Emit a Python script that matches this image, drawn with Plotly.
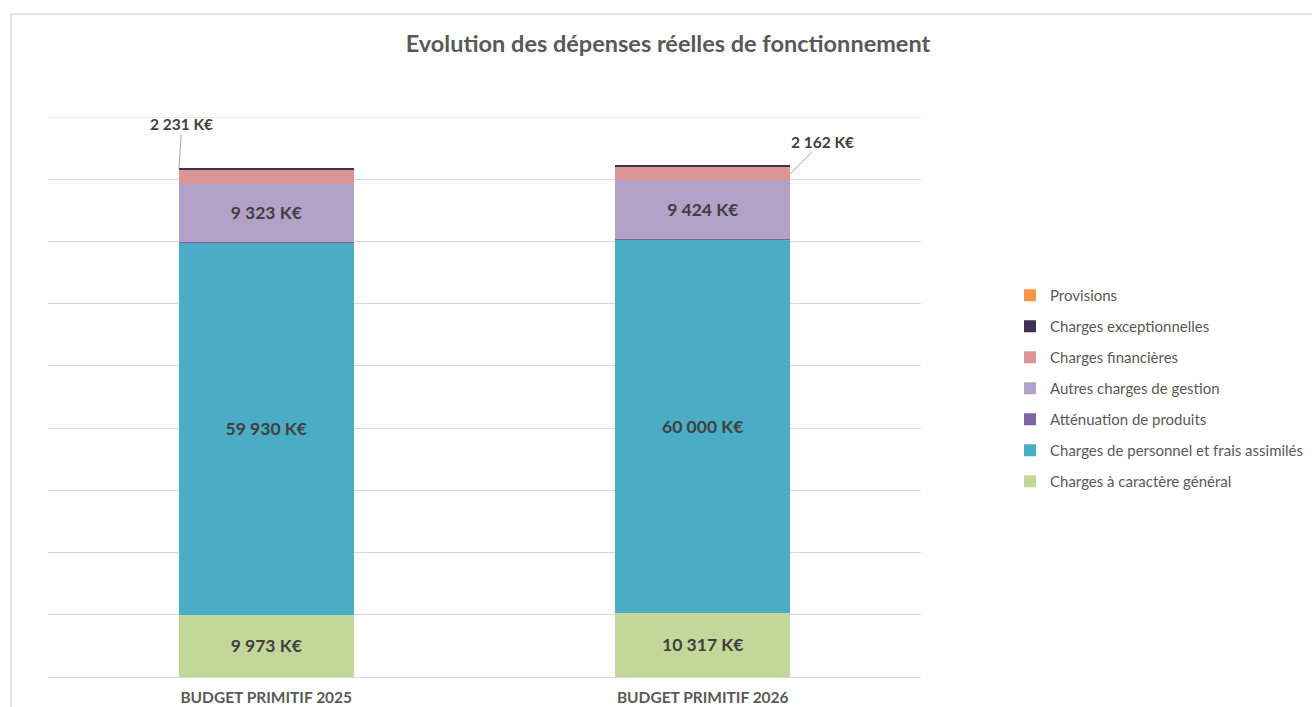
import plotly.graph_objects as go

categories = ["BUDGET PRIMITIF 2025", "BUDGET PRIMITIF 2026"]
series_names = [
    "Charges à caractère général",
    "Charges de personnel et frais assimilés",
    "Atténuation de produits",
    "Autres charges de gestion",
    "Charges financières",
    "Charges exceptionnelles",
    "Provisions",
]
general = [9973, 10317]
personnel = [59930, 60000]
attenuation = [20, 150]
autres = [9323, 9424]
financieres = [2231, 2162]
exceptionnelles = [330, 130]
provisions = [0, 0]

series_values = [general, personnel, attenuation, autres, financieres, exceptionnelles, provisions]
colors = ["#c4d79b", "#4bacc6", "#8064a2", "#b2a2c7", "#da9694", "#403151", "#f79646"]
show_inside = [True, True, False, True, False, False, False]

FONT = "Lato, Open Sans, sans-serif"


def fmt(v):
    return f"{v:,}".replace(",", " ") + " K€"


fig = go.Figure()
n = len(series_names)
for i, (name, vals, col, lab) in enumerate(zip(series_names, series_values, colors, show_inside)):
    fig.add_trace(go.Bar(
        name=name,
        x=categories,
        y=vals,
        marker=dict(color=col, line=dict(width=0)),
        text=[fmt(v) if lab else "" for v in vals],
        textposition="inside" if lab else "none",
        insidetextanchor="middle",
        textfont=dict(family=FONT, size=17.5, color="#404040", weight="bold"),
        legendgroup=name,
        legendrank=100 * (n - i),
        hoverinfo="name+y",
    ))

# outside labels for Charges financières
cum25 = sum(s[0] for s in series_values[:4])
cum26 = sum(s[1] for s in series_values[:4])
fig.add_annotation(x=-0.2, y=cum25 + financieres[0] + exceptionnelles[0] * 0.5,
                   xref="x", yref="y", text=f"<b>{fmt(financieres[0])}</b>",
                   showarrow=True, arrowhead=0, arrowwidth=1, arrowcolor="#a6a6a6",
                   ax=3, ay=-45, font=dict(family=FONT, size=15.5, color="#404040"))
fig.add_annotation(x=1.2, y=cum26 + financieres[1] * 0.45,
                   xref="x", yref="y", text=f"<b>{fmt(financieres[1])}</b>",
                   showarrow=True, arrowhead=0, arrowwidth=1, arrowcolor="#a6a6a6",
                   ax=32, ay=-32, font=dict(family=FONT, size=15.5, color="#404040"))

# chart border
fig.add_shape(type="rect", xref="paper", yref="paper",
              x0=(11 - 48) / 873, x1=(1330 - 48) / 873,
              y0=-0.2, y1=(677 - 14) / 560,
              line=dict(color="#d9d9d9", width=1.5), fillcolor="rgba(0,0,0,0)", layer="below")
# top gridline
fig.add_shape(type="line", xref="paper", yref="y", x0=0, x1=1, y0=90000, y1=90000,
              line=dict(color="#d9d9d9", width=1), layer="below")

fig.update_layout(
    template="none",
    width=1312, height=707,
    barmode="stack",
    bargap=0.6,
    paper_bgcolor="white",
    plot_bgcolor="white",
    margin=dict(l=48, r=391, t=117, b=30, autoexpand=False),
    title=dict(text="<b>Evolution des dépenses réelles de fonctionnement</b>",
               x=668 / 1312, xref="container", xanchor="center",
               y=1 - 44 / 707, yref="container", yanchor="middle",
               font=dict(family=FONT, size=23.5, color="#595959")),
    legend=dict(x=(1010 - 48) / 873, xanchor="left", y=(677 - 279) / 560, yanchor="top",
                traceorder="grouped", tracegroupgap=8.5,
                font=dict(family=FONT, size=15, color="#595959"),
                itemwidth=30, bgcolor="rgba(0,0,0,0)"),
    showlegend=True,
    font=dict(family=FONT),
)
fig.update_yaxes(range=[0, 90000], tick0=0, dtick=10000, showticklabels=False,
                 showgrid=True, gridcolor="#d9d9d9", gridwidth=1,
                 zeroline=True, zerolinecolor="#d9d9d9", zerolinewidth=1,
                 showline=False, automargin=False, ticks="")
fig.update_xaxes(showgrid=False, showline=False, ticks="", automargin=False,
                 tickfont=dict(family=FONT, size=15.5, color="#595959", weight="bold"),
                 ticklabelstandoff=9)

fig.write_html("out.html", config={"displayModeBar": False},
               post_script="document.body.style.margin='0';document.body.style.overflow='hidden';")
